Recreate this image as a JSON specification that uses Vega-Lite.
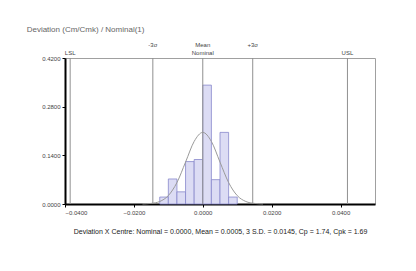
{
  "$schema": "https://vega.github.io/schema/vega-lite/v6.json",
  "width": 310,
  "height": 146,
  "autosize": {"type": "none"},
  "padding": {"left": 65, "top": 58, "right": 41, "bottom": 67},
  "background": "#ffffff",
  "title": {"text": "Deviation (Cm/Cmk) / Nominal(1)", "anchor": "start", "fontSize": 8, "fontWeight": "normal", "font": "Liberation Sans", "color": "#666666", "offset": 8, "dx": -15},
  "datasets": {
    "bins": [
      {"lo": -0.0125, "hi": -0.01, "freq": 0.02},
      {"lo": -0.01, "hi": -0.0075, "freq": 0.072},
      {"lo": -0.0075, "hi": -0.005, "freq": 0.035},
      {"lo": -0.005, "hi": -0.0025, "freq": 0.122},
      {"lo": -0.0025, "hi": 0.0, "freq": 0.128},
      {"lo": 0.0, "hi": 0.0025, "freq": 0.342},
      {"lo": 0.0025, "hi": 0.005, "freq": 0.07},
      {"lo": 0.005, "hi": 0.0075, "freq": 0.206},
      {"lo": 0.0075, "hi": 0.01, "freq": 0.02}
    ],
    "curve": [
      {"x": -0.0175, "y": 0.0003},
      {"x": -0.015, "y": 0.0017},
      {"x": -0.0125, "y": 0.0072},
      {"x": -0.01, "y": 0.0242},
      {"x": -0.0075, "y": 0.0617},
      {"x": -0.005, "y": 0.1205},
      {"x": -0.0025, "y": 0.18},
      {"x": 0.0, "y": 0.206},
      {"x": 0.0025, "y": 0.18},
      {"x": 0.005, "y": 0.1205},
      {"x": 0.0075, "y": 0.0617},
      {"x": 0.01, "y": 0.0242},
      {"x": 0.0125, "y": 0.0072},
      {"x": 0.015, "y": 0.0017},
      {"x": 0.0175, "y": 0.0003}
    ],
    "upper": [
      {"v": -0.0145, "label": "-3σ"},
      {"v": 0.0, "label": "Mean"},
      {"v": 0.0145, "label": "+3σ"}
    ],
    "lower": [
      {"v": -0.0385, "label": "LSL"},
      {"v": 0.0, "label": "Nominal"},
      {"v": 0.042, "label": "USL"}
    ]
  },
  "config": {
    "view": {"stroke": "#a0a0a0", "strokeWidth": 1},
    "font": "Liberation Sans"
  },
  "layer": [
    {
      "data": {"name": "bins"},
      "mark": {"type": "rect", "fill": "#dcdcf4", "stroke": "#8888cc", "strokeWidth": 0.8},
      "encoding": {
        "x": {"field": "lo", "type": "quantitative",
          "scale": {"domain": [-0.04, 0.05], "nice": false, "zero": false},
          "axis": {"values": [-0.04, -0.03, -0.02, -0.01, 0, 0.01, 0.02, 0.03, 0.04], "format": ".4f", "labelFontSize": 6, "labelColor": "#444444", "domainColor": "#000000", "domainWidth": 2, "tickColor": "#000000", "tickSize": 3, "grid": false,
            "title": "Deviation X Centre: Nominal = 0.0000, Mean = 0.0005, 3 S.D. = 0.0145, Cp = 1.74, Cpk = 1.69",
            "titleFontSize": 7, "titleFontWeight": "normal", "titleColor": "#222222", "titlePadding": 12}},
        "x2": {"field": "hi"},
        "y": {"field": "freq", "type": "quantitative",
          "scale": {"domain": [0, 0.42], "nice": false},
          "axis": {"values": [0, 0.07, 0.14, 0.21, 0.28, 0.35, 0.42], "format": ".4f", "labelFontSize": 6, "labelColor": "#444444", "domainColor": "#000000", "domainWidth": 2, "tickColor": "#000000", "tickSize": 3, "grid": false, "title": null}}
      }
    },
    {
      "data": {"name": "curve"},
      "mark": {"type": "line", "color": "#9a9a9a", "strokeWidth": 1, "interpolate": "monotone"},
      "encoding": {
        "x": {"field": "x", "type": "quantitative"},
        "y": {"field": "y", "type": "quantitative"}
      }
    },
    {
      "data": {"name": "upper"},
      "mark": {"type": "rule", "color": "#909090", "strokeWidth": 1},
      "encoding": {
        "x": {"field": "v", "type": "quantitative"}
      }
    },
    {
      "data": {"name": "lower"},
      "transform": [{"filter": "datum.label != 'Nominal'"}],
      "mark": {"type": "rule", "color": "#909090", "strokeWidth": 1},
      "encoding": {
        "x": {"field": "v", "type": "quantitative"}
      }
    },
    {
      "data": {"name": "upper"},
      "mark": {"type": "text", "fontSize": 6, "color": "#444444", "dy": -10, "baseline": "bottom"},
      "encoding": {
        "x": {"field": "v", "type": "quantitative"},
        "y": {"datum": 0.42},
        "text": {"field": "label"}
      }
    },
    {
      "data": {"name": "lower"},
      "mark": {"type": "text", "fontSize": 6, "color": "#444444", "dy": -2, "baseline": "bottom"},
      "encoding": {
        "x": {"field": "v", "type": "quantitative"},
        "y": {"datum": 0.42},
        "text": {"field": "label"}
      }
    }
  ]
}
